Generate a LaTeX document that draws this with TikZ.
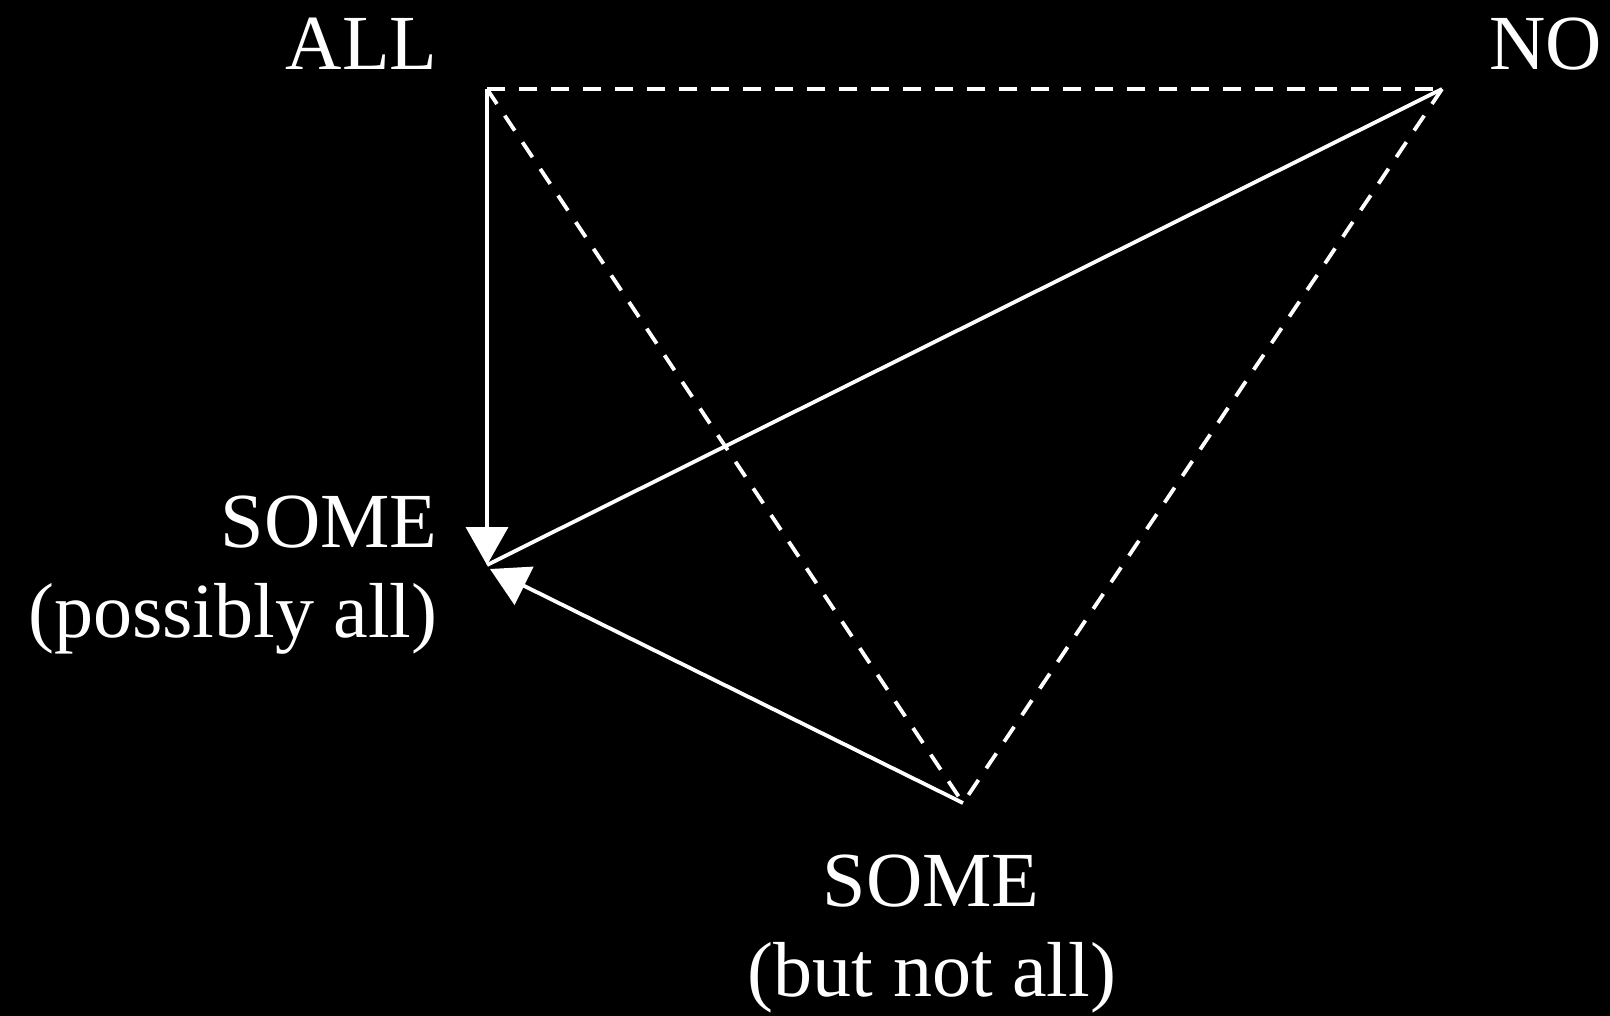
\documentclass[tikz,border=0pt]{standalone}
\usepackage{fontspec}
\setmainfont{Liberation Serif}
\usetikzlibrary{arrows.meta}
\begin{document}
\begin{tikzpicture}[x=0.5pt,y=-0.5pt,
  lbl/.style={text=white,inner sep=0pt,font=\fontsize{39}{46}\selectfont},
  solidline/.style={draw=white,line width=1.9pt},
  dashline/.style={draw=white,line width=1.9pt,dash pattern=on 9pt off 7pt},
  tip/.style={-{Triangle[width=21pt,length=19pt]}}]
\fill[black] (0,0) rectangle (1610,1016);
\useasboundingbox (0,0) rectangle (1610,1016);
% vertices
\coordinate (all) at (487,89);
\coordinate (no) at (1442,89);
\coordinate (sp) at (487,565);
\coordinate (sp2) at (490,569);
\coordinate (sn) at (963,803);
% labels
\node[lbl,anchor=base east] (tall) at (438,70) {ALL};
\node[lbl,anchor=base west] (tno) at (1489,70) {NO};
\node[lbl,anchor=base east] (tsp1) at (438,547) {SOME};
\node[lbl,anchor=base east] (tsp2) at (438,637) {(possibly all)};
\node[lbl,anchor=base] (tsn1) at (931,906) {SOME};
\node[lbl,anchor=base] (tsn2) at (932,996) {(but not all)};
% dashed lines
\draw[dashline] (all) -- (no);
\draw[dashline] (all) -- (sn);
\draw[dashline] (no) -- (sn);
% arrows
\draw[solidline] (no) -- (sp);
\draw[solidline,tip] (all) -- (sp);
\draw[solidline,tip] (sn) -- (sp2);
\end{tikzpicture}
\end{document}
